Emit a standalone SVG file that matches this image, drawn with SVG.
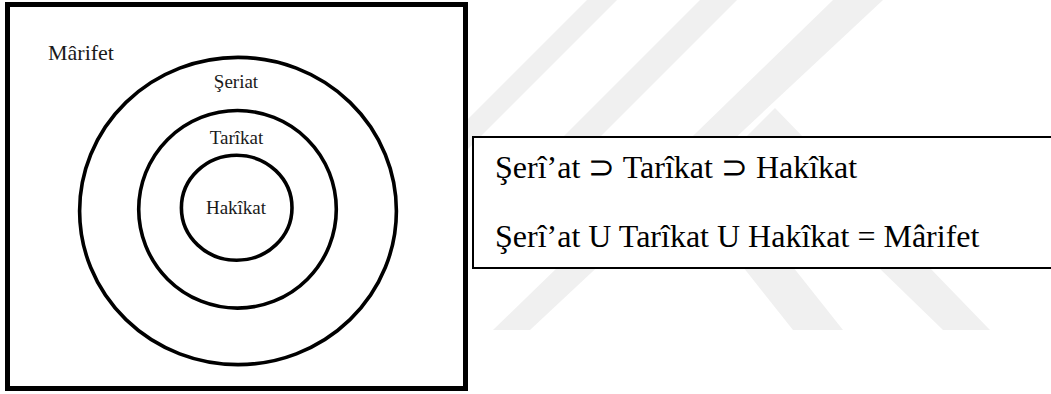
<svg xmlns="http://www.w3.org/2000/svg" width="1051" height="394" viewBox="0 0 1051 394">
<style>
.wm{fill:#f0f0f0;stroke:none}
.ring{fill:none;stroke:#000;stroke-width:3.6}
.serif{font-family:'Liberation Serif','Times New Roman',serif}
.lbl{font-size:19px;fill:#1a1a1a;text-anchor:middle}
.eq{font-size:32px;fill:#000}
</style>
<rect width="1051" height="394" fill="#fff"/>
<g id="watermark">
<polygon class="wm" points="587,0 617,0 380,237 350,237"/>
<polygon class="wm" points="700,0 737,0 560,177 523,177"/>
<polygon class="wm" points="833,0 883,0 530,330 493,330"/>
<polygon class="wm" points="745,138 775,108 990,330 943,330"/>
<polygon class="wm" points="640,137 690,137 843,330 793,330"/>
</g>
<g id="frame">
<rect x="7.5" y="4.5" width="458" height="384" fill="#fff" stroke="#000" stroke-width="5"/>
<text class="serif" x="48" y="60" font-size="22" fill="#1a1a1a">Mârifet</text>
</g>
<g id="seriat">
<ellipse class="ring" cx="238" cy="211" rx="158.4" ry="153.6"/>
<text class="serif lbl" x="236" y="87.5">Şeriat</text>
</g>
<g id="tarikat">
<ellipse class="ring" cx="237.5" cy="209.3" rx="98.8" ry="98.8"/>
<text class="serif lbl" x="236.5" y="143.5">Tarîkat</text>
</g>
<g id="hakikat">
<ellipse class="ring" cx="236.7" cy="207.8" rx="55.3" ry="52.5"/>
<text class="serif lbl" x="236" y="213.5">Hakîkat</text>
</g>
<g id="formula">
<rect x="473" y="137" width="590" height="131" fill="#fff" stroke="#000" stroke-width="2"/>
<text class="serif eq" x="495" y="177.5">Şerî’at ⊃ Tarîkat ⊃ Hakîkat</text>
<text class="serif eq" x="495" y="246.5">Şerî’at U Tarîkat U Hakîkat = Mârifet</text>
</g>
<g id="connectors"/>
</svg>
